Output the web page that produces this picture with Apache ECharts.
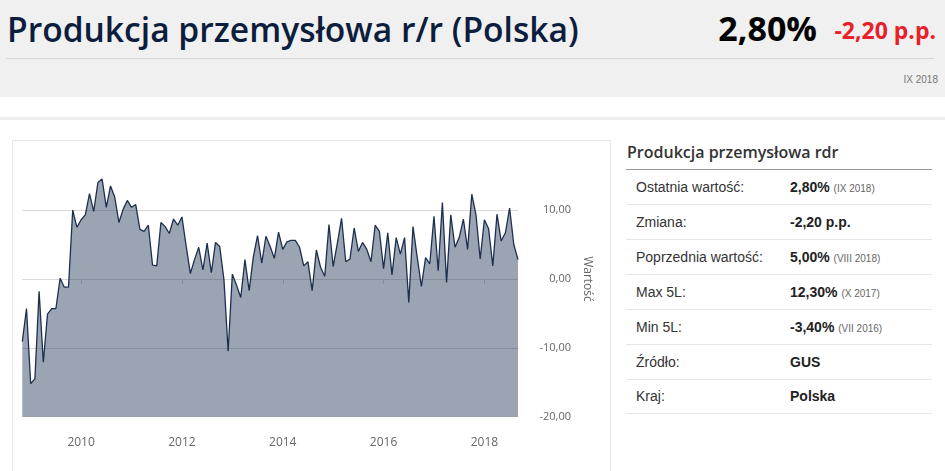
<!DOCTYPE html>
<html>
<head>
<meta charset="utf-8">
<script src="https://cdn.jsdelivr.net/npm/echarts@6/dist/echarts.min.js"></script>
<style>
  html, body { margin: 0; padding: 0; width: 945px; height: 471px; overflow: hidden; background: #fff; font-family: "Liberation Sans", Arial, sans-serif; }
  #head { position: absolute; left: 0; top: 0; width: 945px; height: 97px; background: #f0f0f0; }
  #title { position: absolute; left: 7px; top: 6px; font-family: "Open Sans", sans-serif; font-weight: 600; font-size: 33.6px; color: #0c1d3d; white-space: nowrap; }
  #hline { position: absolute; left: 6px; top: 58px; width: 928px; height: 1px; background: #d6d6d6; }
  #last { position: absolute; right: 128px; top: 5px; font-family: "Open Sans", sans-serif; font-weight: 700; font-size: 34px; color: #000; white-space: nowrap; }
  #chg { position: absolute; right: 9px; top: 14px; font-family: "Open Sans", sans-serif; font-weight: 700; font-size: 23px; color: #e8202a; white-space: nowrap; }
  #date { position: absolute; right: 7px; top: 74px; font-size: 10px; color: #777; }
  #band { position: absolute; left: 0; top: 117px; width: 945px; height: 3px; background: #ededed; }
  #box { position: absolute; left: 12px; top: 140px; width: 597px; height: 340px; border: 1px solid #e8e8e8; }
  #chart-container { position: absolute; left: 12px; top: 140px; width: 598px; height: 331px; }
  #tbl-title { position: absolute; left: 627px; top: 141px; font-family: "Open Sans", sans-serif; font-weight: 600; font-size: 16px; color: #333; white-space: nowrap; }
  #tbl-line { position: absolute; left: 626px; top: 169px; width: 306px; height: 1px; background: #999; }
  .row { position: absolute; left: 626px; width: 306px; height: 34px; border-bottom: 1px solid #e6e6e6; font-size: 14px; color: #333; }
  .row .k { position: absolute; left: 10px; top: 9px; white-space: nowrap; }
  .row .v { position: absolute; left: 164px; top: 9px; font-weight: 700; color: #222; white-space: nowrap; }
  .row .v small { font-weight: 400; font-size: 10px; color: #666; }
</style>
</head>
<body>
<div id="head">
  <div id="title">Produkcja przemysłowa r/r (Polska)</div>
  <div id="last">2,80%</div>
  <div id="chg">-2,20 p.p.</div>
  <div id="hline"></div>
  <div id="date">IX 2018</div>
</div>
<div id="band"></div>
<div id="box"></div>
<div id="chart-container"></div>

<div id="tbl-title">Produkcja przemysłowa rdr</div>
<div id="tbl-line"></div>
<div class="row" style="top:170px"><span class="k">Ostatnia wartość:</span><span class="v">2,80% <small>(IX 2018)</small></span></div>
<div class="row" style="top:205px"><span class="k">Zmiana:</span><span class="v">-2,20 p.p.</span></div>
<div class="row" style="top:240px"><span class="k">Poprzednia wartość:</span><span class="v">5,00% <small>(VIII 2018)</small></span></div>
<div class="row" style="top:275px"><span class="k">Max 5L:</span><span class="v">12,30% <small>(X 2017)</small></span></div>
<div class="row" style="top:310px"><span class="k">Min 5L:</span><span class="v">-3,40% <small>(VII 2016)</small></span></div>
<div class="row" style="top:345px"><span class="k">Źródło:</span><span class="v">GUS</span></div>
<div class="row" style="top:379px"><span class="k">Kraj:</span><span class="v">Polska</span></div>

<script>
// monthly values, XI 2008 .. IX 2018
var startYear = 2008;
var startMonth = 11;
var values = [
  -9.1, -4.3,
  -15.2, -14.5, -1.8, -12.1, -5.1, -4.3, -4.3, 0.1, -1.2, -1.2, 10.0, 7.5,
  8.6, 9.3, 12.4, 9.8, 14.0, 14.5, 10.4, 13.5, 11.9, 8.2, 10.1, 11.4,
  10.4, 10.8, 7.2, 6.9, 7.8, 2.0, 1.9, 8.2, 7.6, 6.6, 8.7, 7.8,
  9.0, 4.8, 0.8, 2.8, 4.6, 1.3, 5.2, 0.9, 5.3, 4.7, -0.1, -10.5,
  0.7, -0.9, -2.7, 2.8, -1.7, 3.2, 6.3, 2.3, 6.2, 4.7, 3.0, 6.8,
  4.3, 5.4, 5.6, 5.6, 4.6, 1.9, 2.5, -1.7, 4.2, 1.7, 0.4, 7.9,
  1.8, 5.2, 8.8, 2.5, 2.9, 7.4, 4.0, 5.3, 4.3, 2.5, 7.8, 6.9,
  1.5, 6.7, 0.6, 6.0, 3.6, 6.0, -3.4, 7.6, 3.2, -1.1, 3.1, 2.2,
  9.1, 1.2, 11.1, -0.5, 9.3, 4.6, 6.0, 8.7, 4.3, 12.3, 9.3, 2.9,
  8.6, 7.3, 1.9, 9.4, 5.5, 6.7, 10.3, 5.0, 2.8
];
var tickLabels = ["2010", "2012", "2014", "2016", "2018"];

var months = [];
for (var i = 0; i < values.length; i++) {
  var m = startMonth - 1 + i;
  var y = startYear + Math.floor(m / 12);
  var mm = (m % 12) + 1;
  months.push(y + "-" + (mm < 10 ? "0" + mm : mm));
}

function isTick(index, value) {
  return value.slice(5) === "01" && tickLabels.indexOf(value.slice(0, 4)) >= 0;
}

var dom = document.getElementById("chart-container");
var myChart = echarts.init(dom, null, { renderer: "canvas" });

var option = {
  animation: false,
  grid: { left: 10.3, right: 92, top: 1.2, bottom: 54.3 },
  xAxis: {
    type: "category",
    data: months,
    boundaryGap: false,
    offset: 10,
    axisLine: { show: false },
    axisTick: { interval: isTick, length: 5, lineStyle: { color: "#ccd6eb" } },
    axisLabel: {
      interval: isTick,
      formatter: function (v) { return v.slice(0, 4); },
      color: "#666",
      fontSize: 12,
      fontFamily: "Open Sans",
      margin: 10,
    },
    splitLine: { show: false },
  },
  yAxis: {
    type: "value",
    position: "right",
    min: -20,
    max: 20,
    interval: 10,
    name: "Wartość",
    nameLocation: "middle",
    nameRotate: -90,
    nameGap: 58,
    nameTextStyle: { color: "#666", fontSize: 12, fontFamily: "Open Sans" },
    axisLine: { show: false },
    axisTick: { show: false },
    axisLabel: {
      showMaxLabel: false,
      align: "right",
      margin: 53,
      color: "#666",
      fontSize: 11,
      fontFamily: "Open Sans",
      formatter: function (v) { return v.toFixed(2).replace(".", ","); },
    },
    splitLine: { showMaxLine: false, lineStyle: { color: "#d8d8d8" } },
  },
  series: [
    {
      type: "line",
      data: values,
      symbol: "none",
      lineStyle: { color: "#1c2f4f", width: 1.3 },
      areaStyle: { color: "#1c2f4f", opacity: 0.44, origin: "start" },
    },
  ],
};

myChart.setOption(option);
window.addEventListener("resize", myChart.resize);
</script>
</body>
</html>
